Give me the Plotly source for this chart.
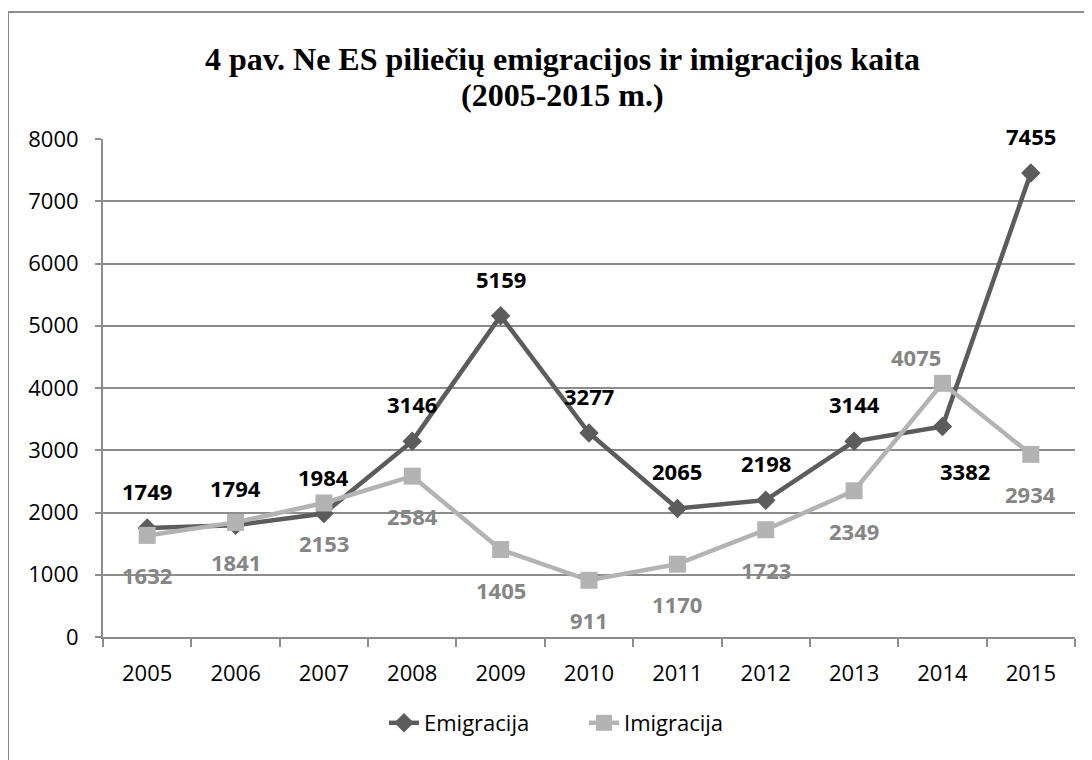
import plotly.graph_objects as go

years = ["2005", "2006", "2007", "2008", "2009", "2010", "2011", "2012", "2013", "2014", "2015"]
emigracija = [1749, 1794, 1984, 3146, 5159, 3277, 2065, 2198, 3144, 3382, 7455]
imigracija = [1632, 1841, 2153, 2584, 1405, 911, 1170, 1723, 2349, 4075, 2934]
y_ticks = [0, 1000, 2000, 3000, 4000, 5000, 6000, 7000, 8000]
title_lines = ["4 pav. Ne ES piliečių emigracijos ir imigracijos kaita", "(2005-2015 m.)"]

EMI_LINE = "#5c5c5c"
IMI_LINE = "#b3b3b3"
IMI_TEXT = "#858585"
GRID = "#8c8c8c"
FONT = "Open Sans"

# the page body has an 8px margin, so the figure is drawn 8px smaller
OFF = 8
W, H = 1092 - OFF, 760 - OFF
L, R, T, B = 103 - OFF, 1092 - 1075, 139 - OFF, 760 - 637
PW, PH = W - L - R, H - T - B


def px_x(x):  # screen pixel -> paper x
    return (x - OFF - L) / PW


def px_y(y):  # screen pixel -> paper y
    return (H - B - (y - OFF)) / PH


fig = go.Figure()
fig.add_trace(go.Scatter(
    x=years, y=emigracija, name="Emigracija", mode="lines+markers",
    line=dict(color=EMI_LINE, width=4.5),
    marker=dict(symbol="diamond", size=15, color=EMI_LINE),
))
fig.add_trace(go.Scatter(
    x=years, y=imigracija, name="Imigracija", mode="lines+markers",
    line=dict(color=IMI_LINE, width=4.5),
    marker=dict(symbol="square", size=17, color=IMI_LINE),
))

annotations = []
for i, v in enumerate(emigracija):
    xs, ys = 0, 37
    if i == 9:
        xs, ys = 23, -45
    annotations.append(dict(x=i, y=v, xref="x", yref="y", text=str(v), showarrow=False,
                            xshift=xs, yshift=ys,
                            font=dict(family=FONT, size=22, color="#000000", weight="bold")))
for i, v in enumerate(imigracija):
    xs, ys = 0, -40
    if i == 9:
        xs, ys = -26, 26
    annotations.append(dict(x=i, y=v, xref="x", yref="y", text=str(v), showarrow=False,
                            xshift=xs, yshift=ys,
                            font=dict(family=FONT, size=22, color=IMI_TEXT, weight="bold")))

for line, ypix in zip(title_lines, [59, 95]):
    annotations.append(dict(x=px_x(562), y=px_y(ypix), xref="paper", yref="paper",
                            xanchor="center", yanchor="middle", text=line, showarrow=False,
                            font=dict(family="Liberation Serif", size=32, color="#000000",
                                      weight="bold")))

fig.update_layout(
    width=W, height=H,
    margin=dict(l=L, r=R, t=T, b=B, pad=0),
    paper_bgcolor="white", plot_bgcolor="white",
    xaxis=dict(type="category", range=[-0.5, 10.5], showgrid=False,
               showline=True, linecolor=GRID, linewidth=2,
               ticks="outside", tickson="boundaries", ticklen=8, tickcolor=GRID, tickwidth=2,
               ticklabelstandoff=16,
               tickfont=dict(family=FONT, size=22, color="#000000")),
    yaxis=dict(range=[0, 8000], tickvals=y_ticks, showgrid=True, gridcolor=GRID, gridwidth=2,
               zeroline=False, showline=True, linecolor=GRID, linewidth=2,
               ticks="outside", ticklen=6, tickcolor=GRID, tickwidth=2,
               ticklabelstandoff=12,
               tickfont=dict(family=FONT, size=22, color="#000000")),
    legend=dict(orientation="h", x=px_x(384), xanchor="left", y=px_y(723), yanchor="middle",
                entrywidth=155, entrywidthmode="pixels",
                font=dict(family=FONT, size=22, color="#000000")),
    annotations=annotations,
    shapes=[dict(type="rect", xref="paper", yref="paper",
                 x0=px_x(8), x1=px_x(1105),
                 y0=px_y(775), y1=px_y(12),
                 line=dict(color="#8c8c8c", width=2), fillcolor="rgba(0,0,0,0)", layer="below")],
    showlegend=True,
)

fig.write_html("out.html")
